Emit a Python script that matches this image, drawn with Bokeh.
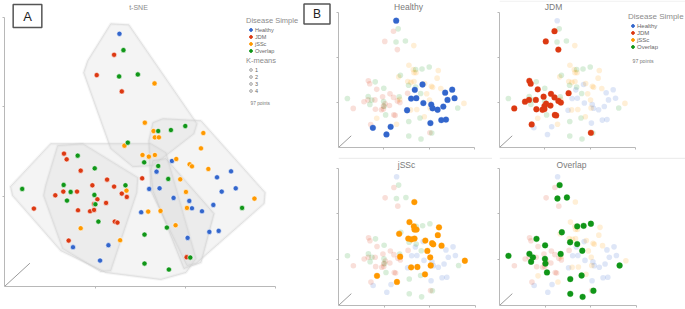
from bokeh.plotting import figure
from bokeh.models import Range1d, FixedTicker, Legend, LegendItem, Label, Span
from bokeh.layouts import row, column
from bokeh.embed import file_html
from bokeh.resources import INLINE

FONT = "Liberation Sans"
NAN = float("nan")

# ---------------- data ----------------
categories = ["Healthy", "JDM", "jSSc", "Overlap"]
colors = ["#3366cc", "#dc3912", "#ff9900", "#109618"]

healthy_x = [35.6, 51.3, 46.7, 44.5, 47.6, 51.8, 56.5, 57.3, 63.7, 60.3, 64.8, 69.0, 66.2, 70.4, 42.1, 62.5, 65.3, 56.0, 32.3, 21.7, 29.8]
healthy_y = [75.9, 37.7, 34.5, 29.3, 29.5, 26.6, 25.7, 23.5, 24.5, 22.6, 32.8, 34.6, 28.5, 29.5, 22.3, 16.4, 16.7, 14.6, 12.4, 11.8, 7.8]

jdm_x = [34.0, 28.8, 36.3, 19.0, 19.8, 24.0, 27.5, 31.9, 34.0, 18.8, 16.4, 22.9, 36.3, 37.8, 31.6, 29.0, 28.0, 23.2, 26.8, 28.0, 34.2, 35.0, 42.4, 20.4, 10.0, 55.7]
jdm_y = [69.6, 63.5, 58.6, 39.9, 38.2, 34.8, 30.4, 32.1, 30.0, 28.5, 27.4, 28.5, 27.9, 26.9, 25.1, 26.2, 24.8, 22.9, 22.6, 23.0, 19.5, 19.2, 32.5, 13.8, 23.4, 8.8]

jssc_x = [46.1, 43.2, 45.8, 46.2, 47.4, 37.1, 42.5, 44.4, 46.2, 52.6, 56.6, 57.3, 53.8, 55.5, 60.7, 60.0, 62.2, 55.8, 47.9, 44.2, 52.4, 24.0, 35.8, 37.7, 76.0]
jssc_y = [61.0, 49.2, 46.7, 44.8, 44.8, 42.3, 39.5, 39.0, 39.5, 38.3, 36.7, 36.1, 32.2, 28.4, 46.1, 41.5, 35.3, 23.6, 22.7, 22.5, 18.4, 17.5, 13.9, 28.8, 26.4]

overlap_x = [36.8, 35.5, 41.1, 47.2, 51.0, 55.3, 38.1, 23.1, 43.0, 47.2, 28.2, 18.9, 37.4, 21.0, 28.1, 19.9, 28.4, 29.3, 50.2, 43.1, 49.8, 43.1, 50.4, 56.8, 72.3, 6.5]
overlap_y = [71.0, 63.1, 63.7, 46.7, 47.0, 48.2, 43.2, 39.3, 37.3, 36.2, 35.5, 30.5, 30.4, 28.4, 27.5, 25.8, 24.7, 19.5, 32.3, 15.6, 17.7, 6.9, 5.1, 8.7, 23.6, 29.3]

series_x = [healthy_x, jdm_x, jssc_x, overlap_x]
series_y = [healthy_y, jdm_y, jssc_y, overlap_y]

# K-means cluster outlines (t-SNE space)
hull_xs = [
    [33.0, 38.4, 58.8, 57.9, 45.6, 39.6, 33.0, 24.9, 26.1],
    [17.1, 24.6, 41.1, 40.8, 33.0, 30.0, 18.6, 12.9, 13.5],
    [3.0, 15.0, 45.0, 49.5, 58.5, 55.5, 48.0, 31.5, 18.0, 3.6],
    [45.6, 48.6, 60.0, 79.2, 78.9, 58.5, 55.8, 45.0, 44.4],
    [45.6, 49.5, 63.9, 60.0, 54.9, 45.6, 45.0],
]
hull_ys = [
    [78.9, 78.6, 48.9, 45.9, 36.3, 36.0, 41.4, 64.2, 67.8],
    [42.3, 42.9, 32.7, 28.2, 4.8, 4.5, 11.4, 27.3, 30.3],
    [30.0, 42.9, 42.9, 40.2, 8.4, 4.2, 2.1, 4.2, 10.8, 27.3],
    [49.2, 50.4, 49.8, 28.2, 24.9, 6.9, 6.3, 28.8, 43.8],
    [37.8, 38.4, 21.9, 7.2, 5.4, 28.8, 34.8],
]
kmeans_labels = ["1", "2", "3", "4"]
n_points_text = "97 points"

x_ticks = [28.3, 55.3, 82.3]
y_ticks = [27.0, 54.0, 80.8]
X_RANGE = (1.2, 82.3)   # extent of the drawn axes
Y_RANGE = (0.0, 80.8)
ZAXIS = (7.6, 7.0)      # depth-axis stub of the 3D view


def make_fig(w, h, bl, bb, ax_px_x, ax_px_y):
    """Frame fills the figure except a left/bottom strip for the axes;
    ax_px_* = on-screen length of the drawn axes."""
    fw, fh = w - bl, h - bb
    ppx = ax_px_x / (X_RANGE[1] - X_RANGE[0])
    ppy = ax_px_y / (Y_RANGE[1] - Y_RANGE[0])
    p = figure(width=w, height=h,
               x_range=Range1d(X_RANGE[0], X_RANGE[0] + fw / ppx),
               y_range=Range1d(Y_RANGE[0], Y_RANGE[0] + fh / ppy),
               output_backend="svg", toolbar_location=None,
               min_border_left=bl, min_border_right=0,
               min_border_top=0, min_border_bottom=bb)
    p.xgrid.visible = False
    p.ygrid.visible = False
    p.outline_line_color = None
    for ax, ticks, bounds in ((p.xaxis[0], x_ticks, X_RANGE), (p.yaxis[0], y_ticks, Y_RANGE)):
        ax.ticker = FixedTicker(ticks=ticks)
        ax.bounds = bounds
        ax.axis_line_color = "#b8b8b8"
        ax.major_tick_line_color = "#b8b8b8"
        ax.major_tick_out = 2
        ax.major_tick_in = 0
        ax.minor_tick_line_color = None
        ax.major_label_text_font_size = "1px"
        ax.major_label_text_color = None
        ax.major_label_standoff = 0
    p.segment(x0=[X_RANGE[0]], y0=[Y_RANGE[0]], x1=[X_RANGE[0] + ZAXIS[0]],
              y1=[Y_RANGE[0] + ZAXIS[1]], line_color="#9a9a9a", line_width=1)
    return p


def screen_label(p, x, y, text, size, color="#808080", align="center", **kw):
    p.add_layout(Label(x=x, y=y, x_units="screen", y_units="screen", text=text,
                       text_font=FONT, text_font_size=f"{size}px", text_color=color,
                       text_align=align, text_baseline="middle", **kw))


def legend_key(p, **style):
    # a renderer that only supplies a legend swatch (its single point is NaN, so not drawn)
    return p.scatter(x=[NAN], y=[NAN], size=4, **style)


def style_legend(leg, title_size, label_size, row_h):
    leg.title_text_font = FONT
    leg.title_text_font_size = f"{title_size}px"
    leg.title_text_color = "#8c8c8c"
    leg.title_text_font_style = "normal"
    leg.title_standoff = 1
    leg.label_text_font = FONT
    leg.label_text_font_size = f"{label_size}px"
    leg.label_text_color = "#666666"
    leg.glyph_width = 9
    leg.glyph_height = row_h
    leg.label_height = row_h
    leg.label_standoff = 0
    leg.spacing = 0
    leg.padding = 0
    leg.margin = 0
    leg.background_fill_alpha = 0
    leg.border_line_alpha = 0


# ---------------- panel A ----------------
pA = make_fig(335, 306, 4, 20, 271, 269)
# soft rounded rim, then the translucent cluster body
pA.patches(xs=hull_xs, ys=hull_ys, fill_color=None,
           line_color="#d4d4d4", line_alpha=0.22, line_width=3, line_join="round")
pA.patches(xs=hull_xs, ys=hull_ys, fill_color="#d6d6d6", fill_alpha=0.27,
           line_color="#c8c8c8", line_alpha=0.4, line_width=1, line_join="round")
for xs, ys, col in zip(series_x, series_y, colors):
    pA.scatter(x=xs, y=ys, size=5.2, fill_color=col, line_color="white", line_width=0.6)

keysA = [legend_key(pA, fill_color=c, line_color=c) for c in colors]
legA = Legend(items=[LegendItem(label=c, renderers=[r]) for c, r in zip(categories, keysA)],
              title="Disease Simple", location=(242, 232))
style_legend(legA, 7.5, 5.5, 7)
pA.add_layout(legA)

keysK = [legend_key(pA, fill_color="#e4e4e4", line_color="#9c9c9c", line_width=0.8)
         for _ in kmeans_labels]
legK = Legend(items=[LegendItem(label=k, renderers=[r]) for k, r in zip(kmeans_labels, keysK)],
              title="K-means", location=(242, 192))
style_legend(legK, 7.5, 5.5, 7)
pA.add_layout(legK)

screen_label(pA, 246, 183, n_points_text, 4.8, color="#777777", align="left")
screen_label(pA, 134, 279, "t-SNE", 7, color="#8a8a8a")
screen_label(pA, 23, 270.5, "A", 13, color="#222222",
             border_line_color="#555555", border_line_width=1.5,
             background_fill_color="white", padding=(10, 4))
screen_label(pA, 312.5, 272.5, "B", 12, color="#222222",
             border_line_color="#555555", border_line_width=1.5,
             background_fill_color="white", padding=(9, 3))

# ---------------- panel B ----------------
geoms = [
    (157, 157, 3, 10, 136, 135),
    (193, 157, 7, 10, 136, 135),
    (157, 151, 3, 3, 137, 137),
    (193, 151, 7, 3, 137, 137),
]
title_pos = [(70, 141), (54, 141), (68, 141), (72, 141)]
figsB = []
for k, (g, tp) in enumerate(zip(geoms, title_pos)):
    p = make_fig(*g)
    for j, (xs, ys, col) in enumerate(zip(series_x, series_y, colors)):
        if j != k:
            p.scatter(x=xs, y=ys, size=5.6, fill_color=col, fill_alpha=0.16, line_color=None)
    p.scatter(x=series_x[k], y=series_y[k], size=5.8, fill_color=colors[k],
              line_color=colors[k], line_width=0.3)
    screen_label(p, tp[0], tp[1], categories[k], 8.5, color="#7a7a7a")
    figsB.append(p)

for p in figsB[2:]:
    p.add_layout(Span(location=p.y_range.end - 0.4, dimension="width",
                      line_color="#e4e4e4", line_width=1))
figsB[1].add_layout(Span(location=figsB[1].y_range.end - 0.4, dimension="width",
                         line_color="#eeeeee", line_width=1))

pB2 = figsB[1]
keysB = [legend_key(pB2, fill_color=c, line_color=c) for c in colors]
legB = Legend(items=[LegendItem(label=c, renderers=[r]) for c, r in zip(categories, keysB)],
              title="Disease Simple", location=(129, 97))
style_legend(legB, 8.0, 6.0, 7)
pB2.add_layout(legB)
screen_label(pB2, 133, 87, n_points_text, 5.2, color="#777777", align="left")

layout = row(pA, column(row(figsB[0], figsB[1]), row(figsB[2], figsB[3])))

open("out.html", "w").write(file_html(layout, INLINE))
